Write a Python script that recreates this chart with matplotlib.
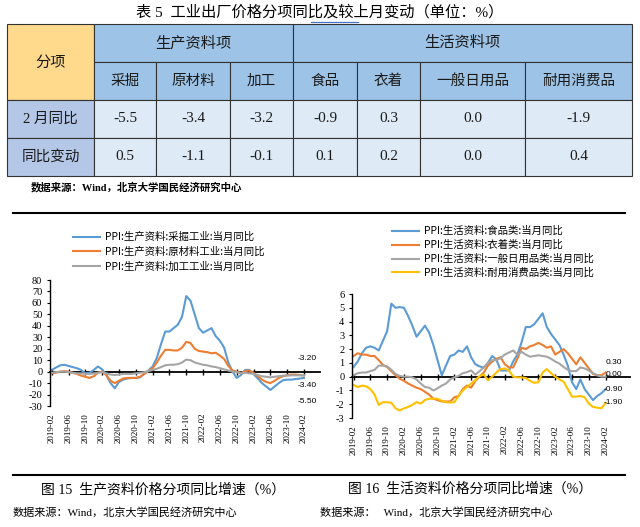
import numpy as np
import pandas as pd
import matplotlib
matplotlib.use("Agg")
import matplotlib.pyplot as plt
from matplotlib.patches import Rectangle

plt.rcParams['font.family'] = ['Liberation Serif', 'Noto Sans CJK SC', 'DejaVu Sans']
plt.rcParams['axes.unicode_minus'] = False

CJK = ['Noto Sans CJK SC', 'DejaVu Sans']
MIX = ['Liberation Serif', 'Noto Sans CJK SC', 'DejaVu Sans']

# ---------------- table data ----------------
table_title = '表 5  工业出厂价格分项同比及较上月变动（单位：%）'
groups = ['生产资料项', '生活资料项']
group_span = [3, 4]
items = ['采掘', '原材料', '加工', '食品', '衣着', '一般日用品', '耐用消费品']
row_names = ['2 月同比', '同比变动']
feb_yoy = [-5.5, -3.4, -3.2, -0.9, 0.3, 0.0, -1.9]
yoy_change = [0.5, -1.1, -0.1, 0.1, 0.2, 0.0, 0.4]

# ---------------- chart data (monthly, 2019-02 .. 2024-02) ----------------
months = pd.period_range('2019-02', '2024-02', freq='M').strftime('%Y-%m').tolist()

mining = [1.5, 3.5, 5.5, 6.0, 5.0, 4.0, 3.0, 1.5, -1.5, -1.0,
          1.5, 4.5, 2.0, -3.0, -10.0, -14.5, -9.0, -7.0, -6.0, -5.5,
          -5.5, -5.0, -2.0, 1.0, 4.5, 12.0, 24.0, 35.0, 35.0, 38.0,
          41.0, 48.0, 66.0, 62.0, 50.0, 38.0, 34.0, 36.0, 38.0, 31.0,
          27.0, 21.0, 8.0, 0.0, -5.5, -3.0, 1.5, 1.5, -2.0, -6.0,
          -10.0, -13.0, -16.0, -13.0, -10.0, -7.5, -7.0, -7.0, -6.5, -6.0,
          -5.5]
raw_mat = [-1.5, -1.0, 0.0, 0.5, 0.0, -1.0, -2.0, -3.5, -4.5, -5.5,
           -4.0, -1.0, 0.0, -3.0, -8.0, -10.0, -8.0, -6.0, -5.5, -5.5,
           -5.5, -4.5, -2.0, 0.5, 3.0, 8.0, 14.0, 19.0, 19.0, 18.5,
           18.5, 21.0, 26.0, 25.0, 20.0, 18.0, 17.5, 17.0, 16.0, 16.5,
           14.0, 11.0, 5.0, 1.0, 0.0, -1.5, 0.5, 1.0, -1.0, -4.0,
           -7.0, -9.0, -10.0, -8.0, -5.5, -4.0, -3.0, -2.5, -2.5, -3.0,
           -3.4]
processing = [-1.0, -0.5, 0.0, 0.0, -0.5, -1.0, -1.5, -1.5, -2.0, -2.0,
              -1.5, -1.0, -0.5, -1.5, -2.5, -3.0, -2.5, -2.0, -2.0, -2.0,
              -1.5, -1.0, -0.5, 0.5, 1.5, 2.5, 4.0, 5.5, 6.0, 6.0,
              6.5, 8.0, 10.5, 10.0, 8.0, 7.0, 6.0, 5.5, 4.5, 4.0,
              3.0, 2.0, 1.0, 0.0, -0.5, -1.0, -1.0, -1.5, -2.0, -3.0,
              -4.0, -4.5, -5.0, -4.5, -4.0, -3.5, -3.5, -3.2, -3.2, -3.2,
              -3.2]

food = [0.7, 1.1, 1.7, 2.1, 2.2, 2.1, 1.9, 2.6, 3.3, 5.3,
        5.0, 5.05, 5.0, 4.4, 3.7, 2.9, 3.3, 3.7, 3.2, 2.3,
        1.2, 0.1, 0.8, 1.5, 1.6, 1.9, 1.8, 2.2, 1.4, 0.9,
        0.75, 0.65, 1.0, 1.5, 1.25, 0.45, 0.45, 0.45, 1.1, 1.6,
        2.5, 3.6, 3.6, 3.8, 4.2, 4.6, 3.6, 3.1, 2.7, 2.3,
        1.6, 0.8, -0.4, -0.9, -0.2, -0.9, -1.3, -1.7, -1.4, -1.2,
        -0.9]
clothing = [1.5, 1.7, 1.6, 1.6, 1.5, 1.5, 1.2, 0.85, 0.7, 0.4,
            0.1, -0.15, -0.3, -0.5, -0.65, -0.8, -0.9, -1.1, -1.3, -1.6,
            -1.7, -1.8, -1.8, -1.8, -1.5, -1.4, -0.9, -0.65, -0.8, -0.3,
            0.0, 0.3, 0.8, 1.1, 1.3, 1.4, 0.9, 0.67, 0.67, 1.3,
            2.1, 2.0, 2.2, 2.3, 2.45, 2.3, 2.1, 2.2, 1.6, 1.8,
            2.0, 1.7, 1.3, 0.9, 1.4, 1.0, 0.6, 0.2, 0.1, 0.1,
            0.3]
daily_use = [0.1, 0.25, 0.3, 0.3, 0.4, 0.5, 0.8, 0.8, 0.75, 0.5,
             0.2, 0.05, 0.0, 0.0, -0.05, -0.2, -0.5, -0.75, -0.8, -1.0,
             -0.85, -0.65, -0.5, -0.2, -0.05, 0.05, 0.25, 0.33, 0.45, 0.15,
             0.4, 0.67, 1.0, 1.2, 1.2, 1.35, 1.6, 1.75, 1.9, 1.6,
             1.8, 1.6, 1.45, 1.5, 1.55, 1.5, 1.45, 1.3, 1.1, 0.95,
             0.7, 0.5, 0.4, 0.4, 0.67, 0.6, 0.45, 0.25, 0.1, 0.0,
             0.0]
durable = [-0.6, -0.75, -0.65, -0.7, -0.9, -1.3, -2.05, -1.85, -1.85, -1.9,
           -2.3, -2.45, -2.3, -2.2, -2.05, -1.85, -1.95, -1.7, -1.6, -1.6,
           -1.6, -1.75, -1.85, -1.88, -1.85, -1.4, -1.0, -0.75, -0.5, -0.25,
           0.05, 0.15, -0.25, 0.0, 0.3, 0.55, 0.6, 0.45, 0.0, -0.05,
           -0.05, -0.1, -0.3, -0.45, -0.4, 0.3, 0.55, 0.25, 0.0, -0.2,
           -0.36, -0.9, -1.45, -1.45, -1.4, -1.5, -1.95, -2.2, -2.25, -2.3,
           -1.9]

left_names = ['PPI:生产资料:采掘工业:当月同比', 'PPI:生产资料:原材料工业:当月同比',
              'PPI:生产资料:加工工业:当月同比']
right_names = ['PPI:生活资料:食品类:当月同比', 'PPI:生活资料:衣着类:当月同比',
               'PPI:生活资料:一般日用品类:当月同比', 'PPI:生活资料:耐用消费品类:当月同比']
left_caption = '图 15  生产资料价格分项同比增速（%）'
right_caption = '图 16  生活资料价格分项同比增速（%）'
source = '数据来源：Wind，北京大学国民经济研究中心'
source2 = '数据来源：   Wind，北京大学国民经济研究中心'

BLUE, ORANGE, GRAY, YELLOW = '#5B9BD5', '#ED7D31', '#A5A5A5', '#FFC000'

W, H = 640, 527
fig = plt.figure(figsize=(6.4, 5.27), dpi=100)
bg = fig.add_axes([0, 0, 1, 1])
bg.set_xlim(0, W)
bg.set_ylim(H, 0)
bg.axis('off')


def px_axes(x0, y0, x1, y1):
    ax = fig.add_axes([x0 / W, 1 - y1 / H, (x1 - x0) / W, (y1 - y0) / H])
    ax.set_facecolor('none')
    return ax


# ---------------- table ----------------
col_edges = [7, 94, 156, 230, 293, 357, 420, 525, 632]
row_edges = [24, 62, 100, 138, 176]
edge = '#333333'


def cell(c0, c1, r0, r1, color, text, size=10.5, family=CJK):
    x0, x1 = col_edges[c0], col_edges[c1]
    y0, y1 = row_edges[r0], row_edges[r1]
    bg.add_patch(Rectangle((x0, y0), x1 - x0, y1 - y0, facecolor=color,
                           edgecolor=edge, lw=0.8))
    bg.text((x0 + x1) / 2, (y0 + y1) / 2, text, ha='center', va='center',
            fontsize=size, family=family, color='#1a1a1a')


bg.text(320, 12, table_title, ha='center', va='center', fontsize=11, family=MIX)
bg.plot([311, 358], [22, 22], color='#4472C4', lw=0.9)

cell(0, 1, 0, 2, '#FFD98C', '分项', size=11)
c = 1
for g, span in zip(groups, group_span):
    cell(c, c + span, 0, 1, '#9DC3E6', g, size=11)
    c += span
for i, name in enumerate(items):
    cell(i + 1, i + 2, 1, 2, '#9DC3E6', name)
for r, (name, vals) in enumerate(zip(row_names, [feb_yoy, yoy_change])):
    cell(0, 1, r + 2, r + 3, '#B4C7E7', name, family=MIX)
    for i, v in enumerate(vals):
        cell(i + 1, i + 2, r + 2, r + 3, '#DEEBF7', f'{v:.1f}', size=11, family=MIX)

bg.text(31, 187, source, ha='left', va='center', fontsize=7.5, family=MIX,
        fontweight='bold')

# ---------------- rules / captions ----------------
bg.plot([13, 625], [213, 213], color='black', lw=1.5)
bg.plot([13, 625], [475, 475], color='black', lw=1.5)
bg.text(163, 489, left_caption, ha='center', va='center', fontsize=10, family=MIX)
bg.text(470, 489, right_caption, ha='center', va='center', fontsize=10, family=MIX)
bg.text(13, 512, source, ha='left', va='center', fontsize=8, family=MIX)
bg.text(320, 512, source2, ha='left', va='center', fontsize=8, family=MIX)

x = np.arange(len(months))
ticks = list(range(0, len(months), 4))


def style_chart(ax, ylim, yticks, zero_frac):
    ax.set_ylim(*ylim)
    ax.set_yticks(yticks)
    for s in ['top', 'right', 'bottom']:
        ax.spines[s].set_visible(False)
    ax.spines['left'].set_linewidth(1.0)
    ax.tick_params(axis='y', direction='out', length=2.5, width=0.8, pad=3,
                   labelsize=7.5)
    ax.set_xticks(ticks)
    ax.set_xticklabels([months[i] for i in ticks], rotation=90, fontsize=6.5)
    ax.tick_params(axis='x', length=0, pad=5)
    sec = ax.secondary_xaxis(zero_frac)
    sec.set_xticks(ticks)
    sec.tick_params(direction='inout', length=5, width=1.0, labelbottom=False,
                    labeltop=False)
    for s in sec.spines.values():
        s.set_linewidth(1.3)


# ---------------- left chart ----------------
axl = px_axes(50, 280, 320, 406)
axl.set_xlim(-0.4, 63.8)
for ys, col, name in zip([mining, raw_mat, processing], [BLUE, ORANGE, GRAY], left_names):
    axl.plot(x, ys, color=col, lw=1.5, label=name)
style_chart(axl, (-30, 80), range(-30, 81, 10), 30 / 110)
axl.legend(loc='upper left', bbox_to_anchor=(73 / W, 1 - 232 / H),
           bbox_transform=fig.transFigure, frameon=False, borderpad=0,
           borderaxespad=0, handlelength=2.6, handletextpad=0.45,
           labelspacing=0.42, prop={'family': CJK, 'size': 7.5})
for ys, dy in zip([processing, raw_mat, mining], [17, -10, -24]):
    axl.annotate(f'{ys[-1]:.2f}', xy=(x[-1], ys[-1]), xytext=(3, dy),
                 textcoords='offset pixels', ha='center', va='center',
                 fontsize=6, family=['Liberation Sans'])

# ---------------- right chart ----------------
axr = px_axes(352, 294, 630, 418)
axr.set_xlim(-0.36, 65.8)
for ys, col, name in zip([food, clothing, daily_use, durable],
                         [BLUE, ORANGE, GRAY, YELLOW], right_names):
    axr.plot(x, ys, color=col, lw=1.5, label=name)
style_chart(axr, (-3, 6), range(-3, 7), 3 / 9)
axr.legend(loc='upper left', bbox_to_anchor=(392 / W, 1 - 226 / H),
           bbox_transform=fig.transFigure, frameon=False, borderpad=0,
           borderaxespad=0, handlelength=2.6, handletextpad=0.45,
           labelspacing=0.36, prop={'family': CJK, 'size': 7.5})
for ys, dy in zip([clothing, daily_use, food, durable], [10, 2, 0, 0]):
    axr.annotate(f'{ys[-1]:.2f}', xy=(x[-1], ys[-1]), xytext=(8, dy),
                 textcoords='offset pixels', ha='center', va='center',
                 fontsize=6, family=['Liberation Sans'])

fig.savefig('out.png', dpi=100)
